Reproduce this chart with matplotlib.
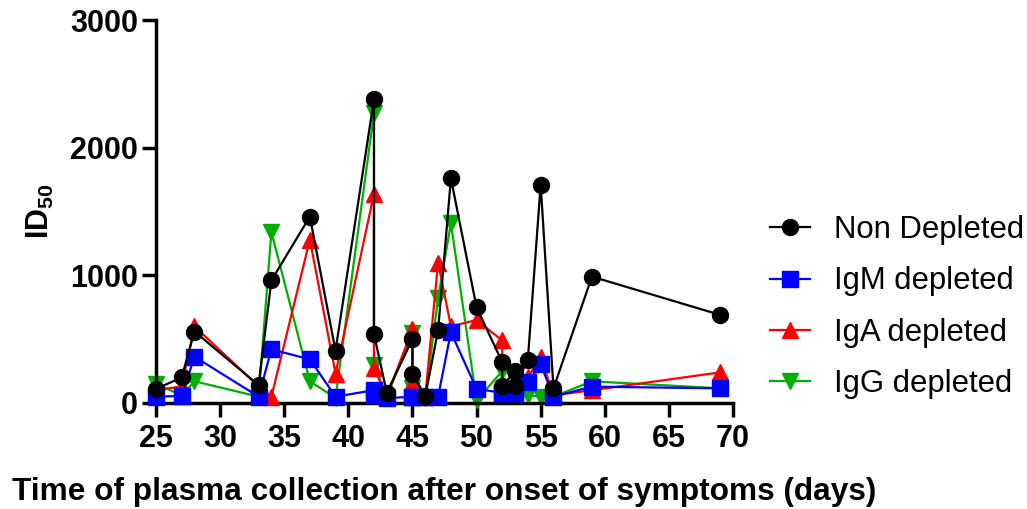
import matplotlib
matplotlib.use('Agg')
import matplotlib.pyplot as plt

# 数据：采样天数及各组 ID50
days = [25, 27, 28, 33, 34, 37, 39, 42, 42, 43, 45, 45, 46, 47, 48, 50,
        52, 52, 53, 53, 54, 55, 56, 59, 69]
non_depleted = [110, 200, 560, 140, 960, 1460, 410, 2380, 540, 80, 500, 230, 55, 570, 1760, 750,
                320, 130, 250, 130, 340, 1710, 115, 990, 690]
igm_depleted = [50, 55, 363, 50, 420, 342, 50, 100, 60, 37, 50, 50, 50, 50, 555, 110,
                80, 80, 80, 80, 167, 303, 50, 128, 115]
iga_depleted = [100, 130, 600, 130, 50, 1280, 230, 1640, 275, 50, 580, 160, 50, 1100, 600, 650,
                490, 100, 150, 100, 200, 360, 60, 100, 240]
igg_depleted = [150, 60, 170, 50, 1340, 170, 40, 2270, 300, 50, 550, 120, 40, 820, 1410, 20,
                250, 80, 80, 70, 60, 50, 50, 170, 115]

plt.rcParams['font.family'] = ['Liberation Sans', 'DejaVu Sans']
plt.rcParams['mathtext.fontset'] = 'custom'
plt.rcParams['mathtext.bf'] = 'Liberation Sans:bold'
plt.rcParams['mathtext.rm'] = 'Liberation Sans:bold'

fig = plt.figure(figsize=(10.27, 5.09), dpi=100)
ax = fig.add_axes([156 / 1027, 1 - 403 / 509, (733 - 156) / 1027, (403 - 20) / 509])

ms = 11.5
lw = 1.6
ax.plot(days, igg_depleted, color='#00B000', marker='v', ms=ms, lw=lw, label='IgG depleted',
        zorder=2, clip_on=False)
ax.plot(days, iga_depleted, color='#FF0000', marker='^', ms=ms, lw=lw, label='IgA depleted',
        zorder=3, clip_on=False)
ax.plot(days, igm_depleted, color='#0000FF', marker='s', ms=ms, lw=lw, label='IgM depleted',
        zorder=4, clip_on=False)
ax.plot(days, non_depleted, color='black', marker='o', ms=ms, lw=lw, label='Non Depleted',
        zorder=5, clip_on=False)

ax.set_xlim(25, 70)
ax.set_ylim(0, 3000)
ax.set_xticks(range(25, 71, 5))
ax.set_yticks([0, 1000, 2000, 3000])
ax.spines['top'].set_visible(False)
ax.spines['right'].set_visible(False)
for s in ['left', 'bottom']:
    ax.spines[s].set_linewidth(2.5)
ax.tick_params(width=2.5, length=10, labelsize=22, pad=3)
ax.tick_params(axis='x', pad=5)
for t in ax.get_xticklabels() + ax.get_yticklabels():
    t.set_fontweight('bold')

ax.set_xlabel('Time of plasma collection after onset of symptoms (days)', fontsize=22.8,
              fontweight='bold', labelpad=17)
ax.set_ylabel(r'$\mathbf{ID_{50}}$', fontsize=22, labelpad=10)

handles, labels = ax.get_legend_handles_labels()
order = [3, 2, 1, 0]
fig.legend([handles[i] for i in order], [labels[i] for i in order],
           loc='center left', bbox_to_anchor=(742 / 1027, 1 - 307 / 509),
           frameon=False, fontsize=22.4, handlelength=1.3, labelspacing=0.68, handletextpad=0.75)

plt.savefig('out.png', dpi=100)
